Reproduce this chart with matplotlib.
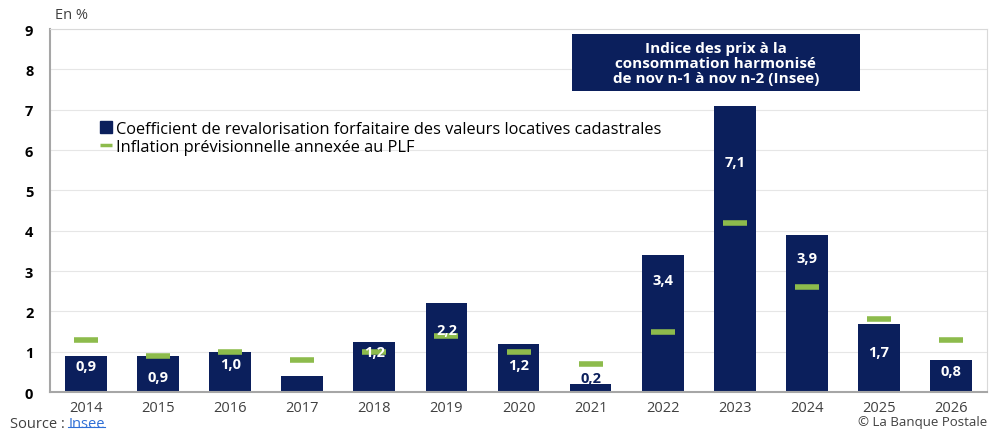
import numpy as np
import matplotlib.pyplot as plt
from matplotlib.lines import Line2D
from matplotlib.patches import Rectangle

# Données
annees = ["2014", "2015", "2016", "2017", "2018", "2019", "2020",
          "2021", "2022", "2023", "2024", "2025", "2026"]
coefficient = [0.9, 0.9, 1.0, 0.4, 1.25, 2.2, 1.2, 0.2, 3.4, 7.1, 3.9, 1.7, 0.8]
inflation_plf = [1.3, 0.9, 1.0, 0.8, 1.0, 1.4, 1.0, 0.7, 1.5, 4.2, 2.6, 1.8, 1.3]
etiquettes = ["0,9", "0,9", "1,0", "", "1,2", "2,2", "1,2",
              "0,2", "3,4", "7,1", "3,9", "1,7", "0,8"]
# hauteur des étiquettes (en %)
etiquette_y = [0.65, 0.38, 0.7, 0, 1.0, 1.55, 0.67, 0.35, 2.78, 5.7, 3.33, 1.0, 0.52]

BLEU = "#0b1f5c"
VERT = "#8dbb4c"
GRIS = "#a6a6a6"
TEXTE = "#404040"

plt.rcParams["font.family"] = ["Open Sans", "DejaVu Sans"]

fig = plt.figure(figsize=(9.9, 4.31), dpi=100)
ax = fig.add_axes([0.0505, 0.088, 0.9465, 0.842])

x = np.arange(len(annees))
ax.bar(x, coefficient, width=0.58, color=BLEU, zorder=2)
ax.plot(x, inflation_plf, linestyle="none", marker="_", ms=17, mew=4,
        color=VERT, zorder=3)

for xi, txt, yi in zip(x, etiquettes, etiquette_y):
    if not txt:
        continue
    couleur = BLEU if txt == "0,2" else "white"
    ax.text(xi, yi, txt, ha="center", va="center", color=couleur,
            fontsize=10.5, fontweight="bold", zorder=4)

ax.set_xlim(-0.5, len(annees) - 0.5)
ax.set_ylim(0, 9)
ax.set_yticks(range(0, 10))
ax.set_xticks(x)
ax.set_xticklabels(annees, fontsize=10.5, color=TEXTE)
for lab in ax.get_yticklabels():
    lab.set_fontweight("bold")
    lab.set_fontsize(10.5)
ax.tick_params(axis="both", length=0, pad=6)
ax.tick_params(axis="y", pad=12)

ax.grid(axis="y", color="#e6e6e6", linewidth=0.8, zorder=0)
ax.set_axisbelow(True)
ax.spines["left"].set_color(GRIS)
ax.spines["bottom"].set_color(GRIS)
ax.spines["left"].set_linewidth(1.5)
ax.spines["bottom"].set_linewidth(1.5)
ax.spines["top"].set_color("#d9d9d9")
ax.spines["right"].set_color("#d9d9d9")

# Légende
poignees = [
    Line2D([], [], linestyle="none", marker="s", ms=8, color=BLEU),
    Line2D([], [], linestyle="none", marker="_", ms=9, mew=2.5, color=VERT),
]
noms = ["Coefficient de revalorisation forfaitaire des valeurs locatives cadastrales",
        "Inflation prévisionnelle annexée au PLF"]
ax.legend(poignees, noms, loc="upper left", bbox_to_anchor=(0.048, 0.765),
          frameon=False, fontsize=11.8, handlelength=0.6, handletextpad=0.3,
          labelspacing=0.12, borderaxespad=0)

# Encadré
ax.add_patch(Rectangle((0.557, 0.829), 0.307, 0.157, transform=ax.transAxes,
                       facecolor=BLEU, edgecolor="none", zorder=5))
ax.text(0.7105, 0.9075, "Indice des prix à la\nconsommation harmonisé\nde nov n-1 à nov n-2 (Insee)",
        transform=ax.transAxes, ha="center", va="center", color="white",
        fontsize=11, fontweight="bold", linespacing=1.1, zorder=6)

fig.text(0.056, 0.955, "En %", fontsize=10.5, color=TEXTE)
fig.text(0.01, 0.008, "Source : ", fontsize=10.5, color=TEXTE)
fig.text(0.069, 0.008, "Insee", fontsize=10.5, color="#2f6fd6")
fig.add_artist(Line2D([0.069, 0.106], [0.006, 0.006], color="#2f6fd6", lw=0.8))
fig.text(0.997, 0.004, "© La Banque Postale", fontsize=9.5, color=TEXTE,
         ha="right", va="bottom")

fig.savefig("out.png", dpi=100)
